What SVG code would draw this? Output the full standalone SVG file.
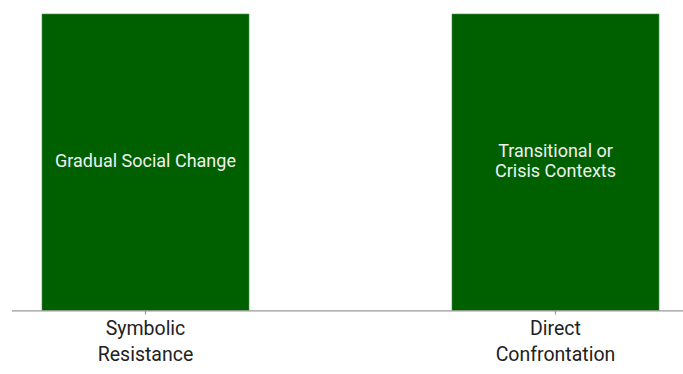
<svg xmlns="http://www.w3.org/2000/svg" width="683" height="374" viewBox="0 0 683 374">
<style>
.bar{fill:#006000;stroke:#4d8a4d;stroke-width:0.6}
.in{font-family:Roboto,"Liberation Sans",sans-serif;font-size:18px;fill:#f0f0f0;text-anchor:middle}
.lab{font-family:Roboto,"Liberation Sans",sans-serif;font-size:19.5px;fill:#222;text-anchor:middle}
.ax{stroke:#999;stroke-width:1.2;fill:none}
</style>
<rect width="683" height="374" fill="#fff"/>
<g id="bar1">
<rect class="bar" x="42" y="14" width="207" height="296.5"/>
<text class="in" x="145.5" y="167">Gradual Social Change</text>
</g>
<g id="bar2">
<rect class="bar" x="452" y="14" width="207" height="296.5"/>
<text class="in" x="555.5" y="157">Transitional or</text>
<text class="in" x="555.5" y="177">Crisis Contexts</text>
</g>
<g id="connectors">
<line class="ax" x1="12" y1="310.8" x2="683" y2="310.8"/>
<line class="ax" x1="145.5" y1="310.8" x2="145.5" y2="314.5"/>
<line class="ax" x1="555.5" y1="310.8" x2="555.5" y2="314.5"/>
</g>
<g id="label1">
<text class="lab" x="145.5" y="335">Symbolic</text>
<text class="lab" x="145.5" y="361">Resistance</text>
</g>
<g id="label2">
<text class="lab" x="555.5" y="335">Direct</text>
<text class="lab" x="555.5" y="361">Confrontation</text>
</g>
</svg>
